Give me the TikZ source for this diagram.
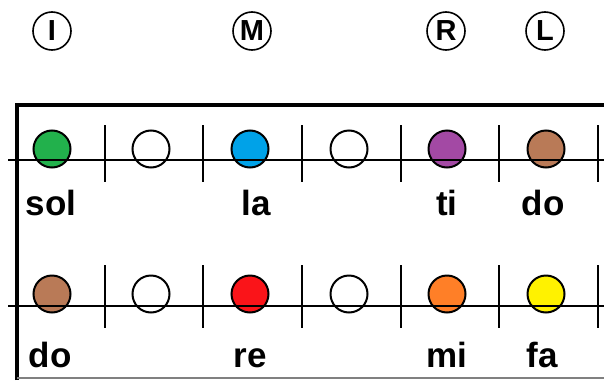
\documentclass[tikz,border=0pt]{standalone}
\usepackage{fontspec}
\setmainfont{Liberation Sans}
\definecolor{pgreen}{RGB}{34,177,76}
\definecolor{pblue}{RGB}{0,162,232}
\definecolor{ppurple}{RGB}{163,73,164}
\definecolor{pbrown}{RGB}{185,122,87}
\definecolor{pred}{RGB}{250,20,25}
\definecolor{porange}{RGB}{255,127,39}
\definecolor{pyellow}{RGB}{255,242,0}
\tikzset{
  note/.style={circle, draw=black, line width=2pt, minimum size=37pt, inner sep=0pt},
  mark letter/.style={circle, draw=black, line width=1.6pt, minimum size=38pt, inner sep=0pt, font=\fontsize{29}{29}\selectfont\bfseries},
  syll/.style={anchor=base, inner sep=0pt, font=\fontsize{35}{35}\selectfont\bfseries},
  staffline/.style={line width=1.3pt},
  barline/.style={line width=2.6pt},
  frame/.style={line width=4pt},
}
\begin{document}
\begin{tikzpicture}[x=1pt,y=-1pt]
\useasboundingbox (0,0) rectangle (604,380);
% circled letters
\node[mark letter] (mI) at (52,31) {I};
\node[mark letter] (mM) at (252,31) {M};
\node[mark letter] (mR) at (446,31) {R};
\node[mark letter] (mL) at (545,31) {L};
% frame
\draw[frame] (17,380) -- (17,104.5) -- (606,104.5);
\draw[gray, line width=1.5pt] (17,378) -- (606,378);
% row 1 notes
\node[note, fill=pgreen] (a1) at (52,149) {};
\node[note, fill=white] (a2) at (151,149) {};
\node[note, fill=pblue] (a3) at (250,149) {};
\node[note, fill=white] (a4) at (349,149) {};
\node[note, fill=ppurple] (a5) at (447,149) {};
\node[note, fill=pbrown] (a6) at (546,149) {};
% row 1 staff
\coordinate (s1a) at (8,160);
\coordinate (s1b) at (606,160);
\draw[staffline] (s1a) -- (s1b);
\foreach \x [count=\i] in {105,203,302,401,499,598}{
  \coordinate (b1t\i) at (\x,125);
  \coordinate (b1b\i) at (\x,182);
  \draw[barline] (b1t\i) -- (b1b\i);
}
% row 1 labels
\node[syll] (l1) at (51,215) {sol};
\node[syll] (l2) at (256,215) {la};
\node[syll] (l3) at (447,215) {ti};
\node[syll] (l4) at (543,215) {do};
% row 2 notes
\node[note, fill=pbrown] (c1) at (52,294) {};
\node[note, fill=white] (c2) at (151,294) {};
\node[note, fill=pred] (c3) at (250,294) {};
\node[note, fill=white] (c4) at (349,294) {};
\node[note, fill=porange] (c5) at (447,294) {};
\node[note, fill=pyellow] (c6) at (546,294) {};
% row 2 staff
\coordinate (s2a) at (8,306);
\coordinate (s2b) at (606,306);
\draw[staffline] (s2a) -- (s2b);
\foreach \x [count=\i] in {105,203,302,401,499,598}{
  \coordinate (b2t\i) at (\x,265);
  \coordinate (b2b\i) at (\x,328);
  \draw[barline] (b2t\i) -- (b2b\i);
}
% row 2 labels
\node[syll] (m1) at (50,367) {do};
\node[syll] (m2) at (250,367) {re};
\node[syll] (m3) at (447,367) {mi};
\node[syll] (m4) at (542,367) {fa};
\end{tikzpicture}
\end{document}
